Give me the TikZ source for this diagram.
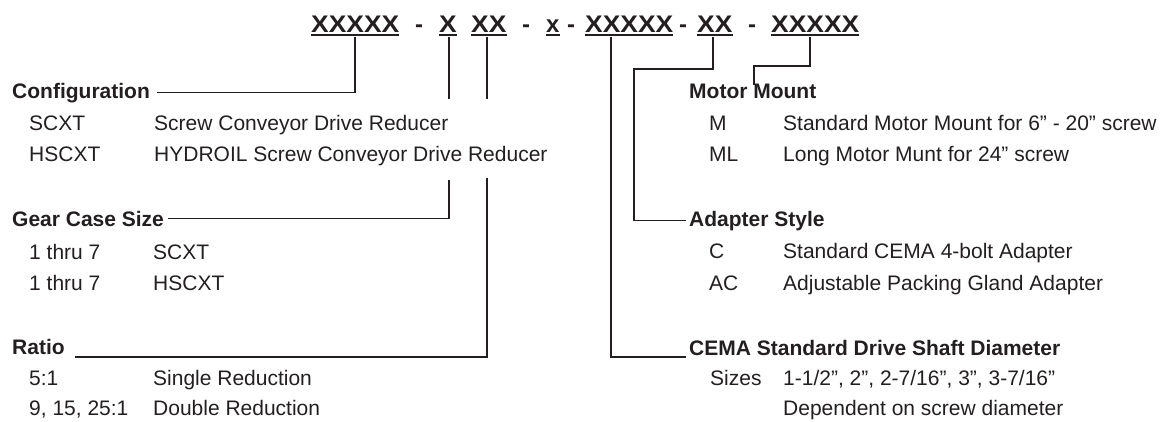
\documentclass[tikz,border=0pt]{standalone}
\usepackage{fontspec}
\setmainfont{Liberation Sans}
\usepackage{graphicx}
\definecolor{ink}{RGB}{35,31,32}
\newcommand{\wide}[1]{\scalebox{1.1}[1]{#1}}

\tikzset{
  code/.style={font=\fontsize{24}{28}\selectfont\bfseries,text=ink,inner sep=0pt,anchor=base west},
  sep/.style={font=\fontsize{24}{28}\selectfont\bfseries,text=ink,inner sep=0pt,anchor=base},
  head/.style={font=\fontsize{21}{25}\selectfont\bfseries,text=ink,inner sep=0pt,anchor=base west},
  item/.style={font=\fontsize{21}{25}\selectfont,text=ink,inner sep=0pt,anchor=base west},
  link/.style={draw=ink,line width=1.3pt},
  uline/.style={draw=ink,line width=1.6pt}
}

\begin{document}
\begin{tikzpicture}[x=1pt,y=-1pt]
\useasboundingbox (0,0) rectangle (1162,421);

% model code
\node[code] (t1) at (311,32) {\wide{XXXXX}};
\node[sep] (d1) at (419,32) {-};
\node[code] (t2) at (439,32) {\wide{X}};
\node[code] (t3) at (471,32) {\wide{XX}};
\node[sep] (d2) at (526,32) {-};
\node[code] (t4) at (546,32) {x};
\node[sep] (d3) at (571,32) {-};
\node[code] (t5) at (585,32) {\wide{XXXXX}};
\node[sep] (d4) at (683,32) {-};
\node[code] (t6) at (697,32) {\wide{XX}};
\node[sep] (d5) at (752,32) {-};
\node[code] (t7) at (771,32) {\wide{XXXXX}};
\foreach \n in {t1,t2,t3,t4,t5,t6,t7}
  \draw[uline] ([yshift=-3pt]\n.base west) -- ([yshift=-3pt]\n.base east);

% left column
\node[head] (hConf) at (12,98) {Configuration};
\node[item] (conf1) at (29,130) {SCXT};
\node[item] (conf1d) at (154,130) {Screw Conveyor Drive Reducer};
\node[item] (conf2) at (29,161) {HSCXT};
\node[item] (conf2d) at (154,161) {HYDROIL Screw Conveyor Drive Reducer};

\node[head] (hGear) at (12,226) {Gear Case Size};
\node[item] (gear1) at (29,259) {1 thru 7};
\node[item] (gear1d) at (153,259) {SCXT};
\node[item] (gear2) at (29,290) {1 thru 7};
\node[item] (gear2d) at (153,290) {HSCXT};

\node[head] (hRatio) at (12,354) {Ratio};
\node[item] (ratio1) at (29,385) {5:1};
\node[item] (ratio1d) at (153,385) {Single Reduction};
\node[item] (ratio2) at (29,415) {9, 15, 25:1};
\node[item] (ratio2d) at (153,415) {Double Reduction};

% right column
\node[head] (hMotor) at (689,98) {Motor Mount};
\node[item] (motor1) at (709,130) {M};
\node[item] (motor1d) at (783,130) {Standard Motor Mount for 6” - 20” screw};
\node[item] (motor2) at (709,161) {ML};
\node[item] (motor2d) at (783,161) {Long Motor Munt for 24” screw};

\node[head] (hAdapt) at (689,226) {Adapter Style};
\node[item] (adapt1) at (709,258) {C};
\node[item] (adapt1d) at (783,258) {Standard CEMA 4-bolt Adapter};
\node[item] (adapt2) at (709,290) {AC};
\node[item] (adapt2d) at (783,290) {Adjustable Packing Gland Adapter};

\node[head] (hCema) at (689,355) {CEMA Standard Drive Shaft Diameter};
\node[item] (cema1) at (710,385) {Sizes};
\node[item] (cema1d) at (783,385) {1-1/2”, 2”, 2-7/16”, 3”, 3-7/16”};
\node[item] (cema2d) at (783,415) {Dependent on screw diameter};

% leader lines
\coordinate (s1) at (355,37);
\coordinate (s2) at (449,37);
\coordinate (s3) at (487,37);
\coordinate (s5) at (611,37);
\coordinate (s6) at (713,37);
\coordinate (s7) at (810,37);
\coordinate (g2) at (449,180);
\coordinate (g3) at (487,178);
\coordinate (k6) at (634,69);
\coordinate (k7) at (754,66);
\coordinate (m7) at (754,85);

\draw[link] (s1) |- ([xshift=7pt]hConf.east);
\draw[link] (s2) -- (449,99);
\draw[link] (g2) |- ([xshift=4pt]hGear.east);
\draw[link] (s3) -- (487,99);
\draw[link] (g3) |- ([shift={(10pt,-3pt)}]hRatio.base east);
\draw[link] (s5) |- ([shift={(-3pt,-2pt)}]hCema.base west);
\draw[link] (s6) |- (k6) |- ([xshift=-3pt]hAdapt.west);
\draw[link] (s7) |- (k7) -- (m7);
\end{tikzpicture}
\end{document}
